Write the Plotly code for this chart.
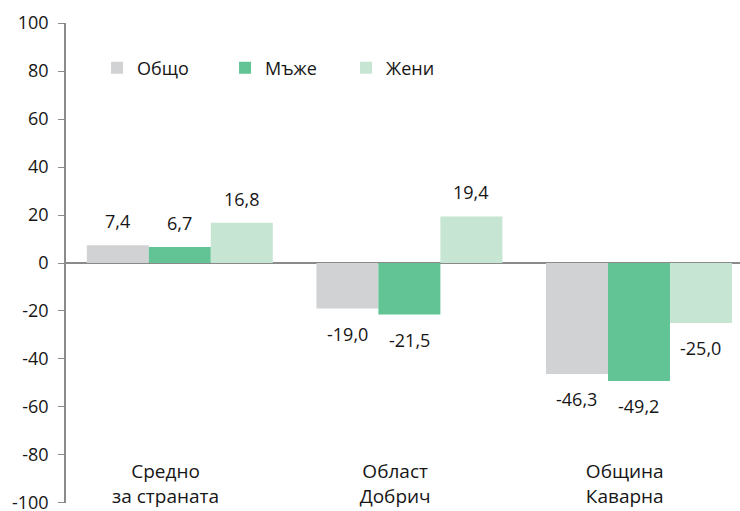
import plotly.graph_objects as go

# Население: изменение по групи (на 1000 души)
categories = ["Средно<br>за страната", "Област<br>Добрич", "Община<br>Каварна"]
series_names = ["Общо", "Мъже", "Жени"]
total = [7.4, -19.0, -46.3]
men = [6.7, -21.5, -49.2]
women = [16.8, 19.4, -25.0]
y_ticks = [-100, -80, -60, -40, -20, 0, 20, 40, 60, 80, 100]
y_tick_text = [str(v) for v in y_ticks]

colors = ["#d1d2d4", "#62c394", "#c6e5d3"]
series = [total, men, women]

FONT = "Open Sans"
TXT = "#161616"
bar_w = 0.27
label_shift = -0.062
legend_x = [0.0475, 0.2371, 0.4164]

fig = go.Figure()
annotations = []
for j, (name, vals, col) in enumerate(zip(series_names, series, colors)):
    xs = [i + (j - 1) * bar_w for i in range(len(categories))]
    lg = "legend" if j == 0 else f"legend{j + 1}"
    fig.add_trace(go.Bar(
        x=xs, y=vals, width=bar_w, name=name, marker_color=col,
        marker_line_width=0, legend=lg, showlegend=True,
    ))
    for x, v in zip(xs, vals):
        annotations.append(dict(
            x=x, y=v, xref="x", yref="y", showarrow=False,
            text=f"{v:.1f}".replace(".", ","),
            yanchor="middle", yshift=24 if v >= 0 else -25,
            font=dict(family=FONT, size=18, color=TXT),
        ))

legend_common = dict(
    orientation="h", yanchor="middle", xanchor="left", y=0.906,
    bgcolor="rgba(0,0,0,0)", borderwidth=0,
    font=dict(family=FONT, size=18, color=TXT),
)
fig.update_layout(
    width=740, height=511,
    margin=dict(l=65, r=0, t=23, b=8, autoexpand=False),
    paper_bgcolor="white", plot_bgcolor="white",
    barmode="overlay", showlegend=True,
    font=dict(family=FONT, size=18, color=TXT),
    annotations=annotations,
    legend=dict(x=legend_x[0], **legend_common),
    legend2=dict(x=legend_x[1], **legend_common),
    legend3=dict(x=legend_x[2], **legend_common),
    xaxis=dict(
        range=[-0.5, 2.44], anchor="free", position=0.094,
        tickvals=[i + label_shift for i in range(len(categories))],
        ticktext=categories, showgrid=False, zeroline=False,
        showline=False, ticks="", automargin=False,
        tickfont=dict(family=FONT, size=19, color=TXT),
    ),
    yaxis=dict(
        range=[-100.05, 100.05], tickvals=y_ticks, ticktext=y_tick_text,
        anchor="free", position=0, ticklabeloverflow="allow",
        automargin=False,
        showgrid=False, zeroline=True, zerolinecolor="#8a8a8a",
        zerolinewidth=1.5, showline=True, linecolor="#8a8a8a",
        linewidth=1.5, ticks="outside", ticklen=6, tickcolor="#8a8a8a",
        tickwidth=1, ticklabelstandoff=6,
        tickfont=dict(family=FONT, size=18, color=TXT),
    ),
)

fig.write_html("out.html")
